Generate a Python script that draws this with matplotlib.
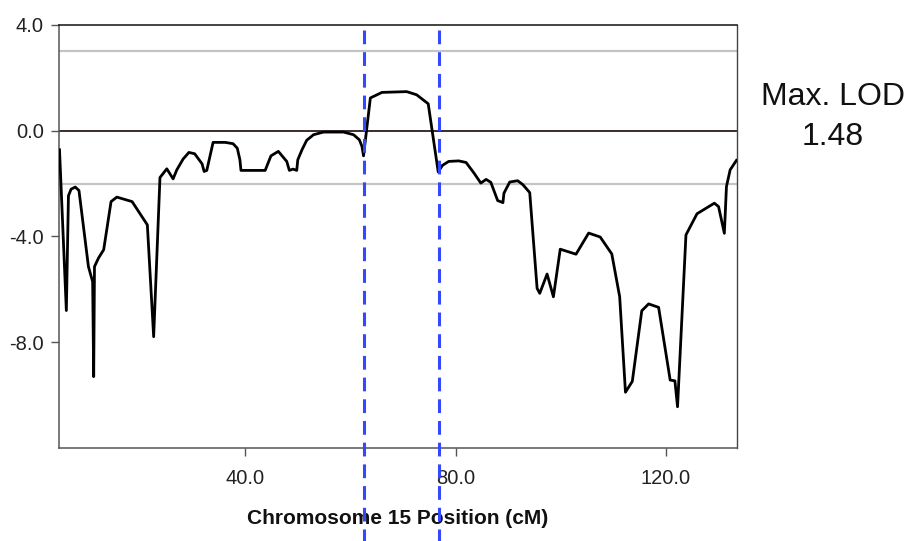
import matplotlib
matplotlib.use("Agg")
import matplotlib.pyplot as plt

plt.rcParams['font.family'] = ['Liberation Sans', 'DejaVu Sans']

# Chromosome 15 position (cM) and LOD score
pos = [4.7, 6.0, 6.4, 6.9, 7.7, 8.4, 10.2, 11.0, 11.2, 11.35, 12.1, 13.1, 14.5, 15.6,
       18.5, 21.4, 22.6, 23.8, 25.1, 26.3, 27.0, 28.2, 29.3, 30.4, 31.8, 32.2, 32.7,
       33.9, 36.2, 37.7, 38.5, 39.0, 39.2, 43.8, 44.1, 44.9, 46.3, 47.9, 48.4, 49.1,
       49.8, 50.0, 50.8, 51.7, 53.0, 54.9, 58.7, 60.6, 61.7, 62.2, 62.5, 63.8, 66.0,
       70.7, 72.6, 74.8, 76.7, 77.5, 78.7, 80.6, 82.0, 83.5, 84.8, 85.8, 86.7, 88.0,
       89.0, 89.2, 90.3, 91.8, 92.8, 94.1, 95.5, 96.0, 97.4, 98.6, 99.9, 102.9, 105.3,
       107.5, 109.7, 111.2, 112.3, 113.6, 115.4, 116.7, 118.6, 120.8, 121.7, 122.2,
       123.8, 125.9, 129.2, 130.0, 131.1, 131.5, 132.2, 133.4]
lod = [-0.72, -6.8, -2.46, -2.21, -2.13, -2.26, -5.14, -5.71, -9.3, -5.14, -4.82, -4.5,
       -2.68, -2.51, -2.68, -3.56, -7.79, -1.77, -1.44, -1.82, -1.48, -1.07, -0.82,
       -0.87, -1.25, -1.54, -1.50, -0.44, -0.44, -0.49, -0.66, -1.10, -1.50, -1.50,
       -1.35, -0.95, -0.78, -1.16, -1.50, -1.45, -1.50, -1.10, -0.72, -0.36, -0.15,
       -0.05, -0.05, -0.15, -0.34, -0.59, -0.95, 1.24, 1.45, 1.48, 1.36, 1.02, -1.56,
       -1.31, -1.16, -1.14, -1.20, -1.60, -1.98, -1.84, -1.95, -2.64, -2.72, -2.36,
       -1.94, -1.89, -2.04, -2.34, -5.96, -6.15, -5.42, -6.28, -4.48, -4.67, -3.87,
       -4.02, -4.66, -6.28, -9.89, -9.48, -6.81, -6.55, -6.68, -9.43, -9.46, -10.44,
       -3.94, -3.14, -2.74, -2.87, -3.88, -2.11, -1.48, -1.12]

marker_lines = [62.5, 76.9]
ref_lines = [3.0, -2.0]
xticks = [40, 80, 120]
yticks = [4, 0, -4, -8]

fig = plt.figure(figsize=(9.13, 5.41), dpi=100)
ax = fig.add_axes([0.0646, 0.1719, 0.7426, 0.7819])

for r in ref_lines:
    ax.axhline(r, color='#c4c4c4', lw=1.6, zorder=1)
ax.axhline(0, color='#1e0808', lw=1.2, zorder=2)

ax.plot(pos, lod, color='black', lw=2.0, zorder=3)

for m in marker_lines:
    ax.plot([m, m], [3.8, -16.5], color='#3348ff', lw=2.2, dashes=(4.5, 2.6),
            clip_on=False, zorder=4)

ax.set_xlim(4.6, 133.5)
ax.set_ylim(-12, 4)
ax.set_xticks(xticks)
ax.set_xticklabels([f"{t:.1f}" for t in xticks])
ax.set_yticks(yticks)
ax.set_yticklabels([f"{t:.1f}" for t in yticks])

for side in ['left', 'bottom']:
    ax.spines[side].set_color('#555555')
    ax.spines[side].set_linewidth(1.1)
ax.spines['top'].set_color('#111111')
ax.spines['top'].set_linewidth(1.1)
ax.spines['right'].set_color('#444444')
ax.spines['right'].set_linewidth(1.0)

ax.tick_params(axis='both', length=6, width=1, color='#555555', labelsize=14.5,
               labelcolor='#222222')
ax.tick_params(axis='y', pad=5)
ax.tick_params(axis='x', pad=9)

ax.set_xlabel('Chromosome 15 Position (cM)', fontsize=15, fontweight='bold',
              color='#111111', labelpad=15)

fig.text(0.912, 0.820, 'Max. LOD', fontsize=23, ha='center', va='center', color='#111111')
fig.text(0.912, 0.746, '1.48', fontsize=23, ha='center', va='center', color='#111111')

fig.savefig('out.png', dpi=100)
